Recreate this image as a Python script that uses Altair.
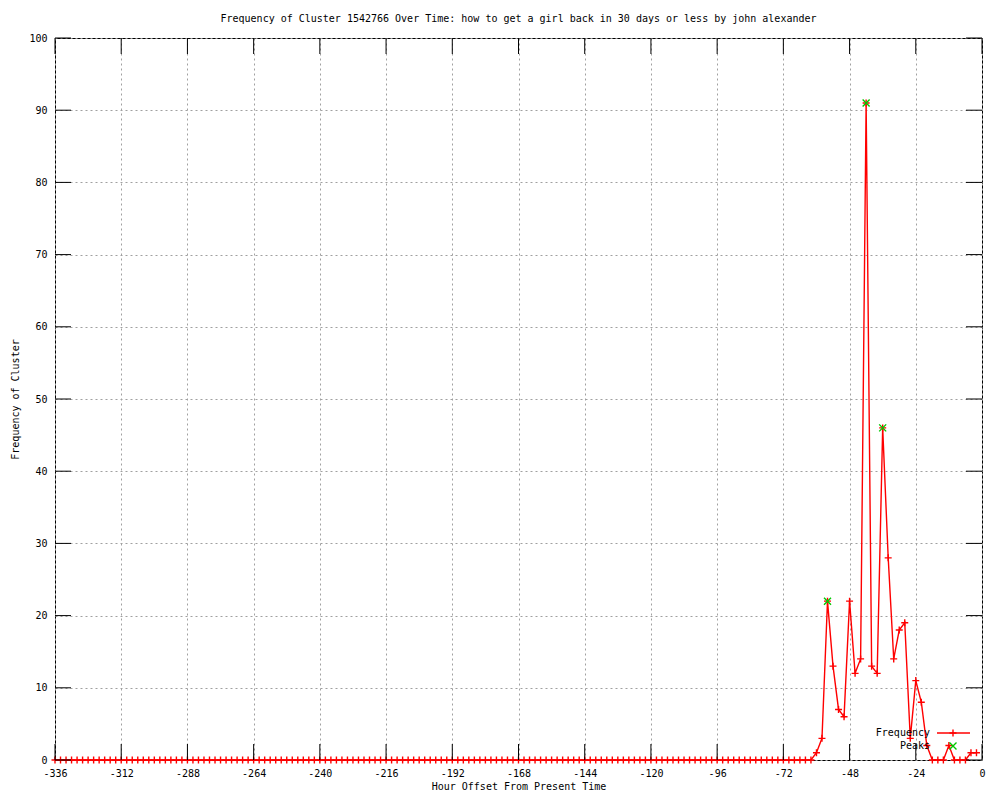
import altair as alt
import pandas as pd

# ---- data ----
TITLE = "Frequency of Cluster 1542766 Over Time: how to get a girl back in 30 days or less by john alexander"

# hour offsets, every 2 hours from -336 to -2
hours = list(range(-336, 0, 2))

# frequency values (-336 ... -64 are all zero, then the burst)
freq_early = [
    0, 0, 0, 0, 0, 0, 0, 0, 0, 0, 0, 0, 0, 0, 0, 0, 0, 0, 0, 0,
    0, 0, 0, 0, 0, 0, 0, 0, 0, 0, 0, 0, 0, 0, 0, 0, 0, 0, 0, 0,
    0, 0, 0, 0, 0, 0, 0, 0, 0, 0, 0, 0, 0, 0, 0, 0, 0, 0, 0, 0,
    0, 0, 0, 0, 0, 0, 0, 0, 0, 0, 0, 0, 0, 0, 0, 0, 0, 0, 0, 0,
    0, 0, 0, 0, 0, 0, 0, 0, 0, 0, 0, 0, 0, 0, 0, 0, 0, 0, 0, 0,
    0, 0, 0, 0, 0, 0, 0, 0, 0, 0, 0, 0, 0, 0, 0, 0, 0, 0, 0, 0,
    0, 0, 0, 0, 0, 0, 0, 0, 0, 0, 0, 0, 0, 0, 0, 0, 0,
]
freq_late = [0, 1, 3, 22, 13, 7, 6, 22, 12, 14, 91, 13, 12, 46, 28, 14,
             18, 19, 3, 11, 8, 2, 0, 0, 0, 2, 0, 0, 0, 1, 1]
freq = freq_early + freq_late

peak_hours = [-56, -42, -36]
peak_values = [22, 91, 46]

x_ticks = [-336, -312, -288, -264, -240, -216, -192, -168, -144, -120, -96, -72, -48, -24, 0]
y_ticks = [0, 10, 20, 30, 40, 50, 60, 70, 80, 90, 100]

legend_labels = ["Frequency", "Peaks"]

# ---- tables ----
df = pd.DataFrame({"hour": hours, "freq": freq})
peaks = pd.DataFrame({"hour": peak_hours, "freq": peak_values})
xt = pd.DataFrame({"v": x_ticks})
yt = pd.DataFrame({"v": y_ticks})
leg_f = pd.DataFrame({"label": [legend_labels[0]]})
leg_p = pd.DataFrame({"label": [legend_labels[1]]})

FONT = "DejaVu Sans Mono"
RED = "#ff0000"
GREEN = "#00c800"
W, H = 927, 722
TICK = 16

xscale = alt.Scale(domain=[-336, 0], nice=False, zero=False)
yscale = alt.Scale(domain=[0, 100], nice=False, zero=False)

PLUS = "M-1,0L1,0M0,-1L0,1"
CROSS = "M-1,-1L1,1M-1,1L1,-1"

base = alt.Chart(df).encode(
    x=alt.X("hour:Q", scale=xscale,
            axis=alt.Axis(values=x_ticks, labelExpr="'' + datum.value",
                          title="Hour Offset From Present Time", titlePadding=3)),
    y=alt.Y("freq:Q", scale=yscale,
            axis=alt.Axis(values=y_ticks, labelExpr="'' + datum.value",
                          title="Frequency of Cluster", titlePadding=8)),
)

line = base.mark_line(color=RED, strokeWidth=1.4, clip=False)
pts = base.mark_point(shape=PLUS, size=49, filled=False, color=RED,
                      strokeWidth=1.4, opacity=1)

peak_pts = alt.Chart(peaks).mark_point(
    shape=CROSS, size=49, filled=False, color=GREEN, strokeWidth=1.4, opacity=1
).encode(x=alt.X("hour:Q", scale=xscale), y=alt.Y("freq:Q", scale=yscale))

tick_b = alt.Chart(xt).mark_rule(color="black", strokeWidth=1).encode(
    x=alt.X("v:Q", scale=xscale), y=alt.value(H), y2=alt.value(H - TICK))
tick_t = alt.Chart(xt).mark_rule(color="black", strokeWidth=1).encode(
    x=alt.X("v:Q", scale=xscale), y=alt.value(0), y2=alt.value(TICK))
tick_l = alt.Chart(yt).mark_rule(color="black", strokeWidth=1).encode(
    y=alt.Y("v:Q", scale=yscale), x=alt.value(0), x2=alt.value(TICK))
tick_r = alt.Chart(yt).mark_rule(color="black", strokeWidth=1).encode(
    y=alt.Y("v:Q", scale=yscale), x=alt.value(W), x2=alt.value(W - TICK))

# legend (inside, bottom right, gnuplot style: label then sample)
LX_TEXT, LX_A, LX_B, LX_S = 875, 882, 915, 898
LY1, LY2 = 695, 708
leg_text_f = alt.Chart(leg_f).mark_text(align="right", baseline="middle", font=FONT,
                                        fontSize=10, color="black").encode(
    text="label:N", x=alt.value(LX_TEXT), y=alt.value(LY1))
leg_line_f = alt.Chart(leg_f).mark_rule(color=RED, strokeWidth=1.4).encode(
    x=alt.value(LX_A), x2=alt.value(LX_B), y=alt.value(LY1))
leg_pt_f = alt.Chart(leg_f).mark_point(shape=PLUS, size=49, filled=False, color=RED,
                                       strokeWidth=1.4, opacity=1).encode(
    x=alt.value(LX_S), y=alt.value(LY1))
leg_text_p = alt.Chart(leg_p).mark_text(align="right", baseline="middle", font=FONT,
                                        fontSize=10, color="black").encode(
    text="label:N", x=alt.value(LX_TEXT), y=alt.value(LY2))
leg_pt_p = alt.Chart(leg_p).mark_point(shape=CROSS, size=49, filled=False, color=GREEN,
                                       strokeWidth=1.4, opacity=1).encode(
    x=alt.value(LX_S), y=alt.value(LY2))

chart = alt.layer(
    line, pts, peak_pts, tick_b, tick_t, tick_l, tick_r,
    leg_text_f, leg_line_f, leg_pt_f, leg_text_p, leg_pt_p,
).properties(
    width=W, height=H,
    autosize=alt.AutoSizeParams(type="none"),
    padding={"left": 47, "top": 30, "right": 10, "bottom": 32},
    title=alt.TitleParams(text=TITLE, font=FONT, fontSize=10, fontWeight="normal",
                          anchor="middle", offset=9, color="black"),
    background="white",
).configure_view(
    stroke="black", strokeWidth=1
).configure_axis(
    ticks=False, domain=False, grid=True, gridColor="#a0a0a0", gridDash=[2, 3],
    gridWidth=1, labelFont=FONT, labelFontSize=10, labelColor="black",
    labelPadding=8, titleFont=FONT, titleFontSize=10, titleFontWeight="normal",
    titleColor="black", labelFlush=False, labelOverlap=False,
)

chart.save("out.html", embed_options={"renderer": "svg", "actions": False})
